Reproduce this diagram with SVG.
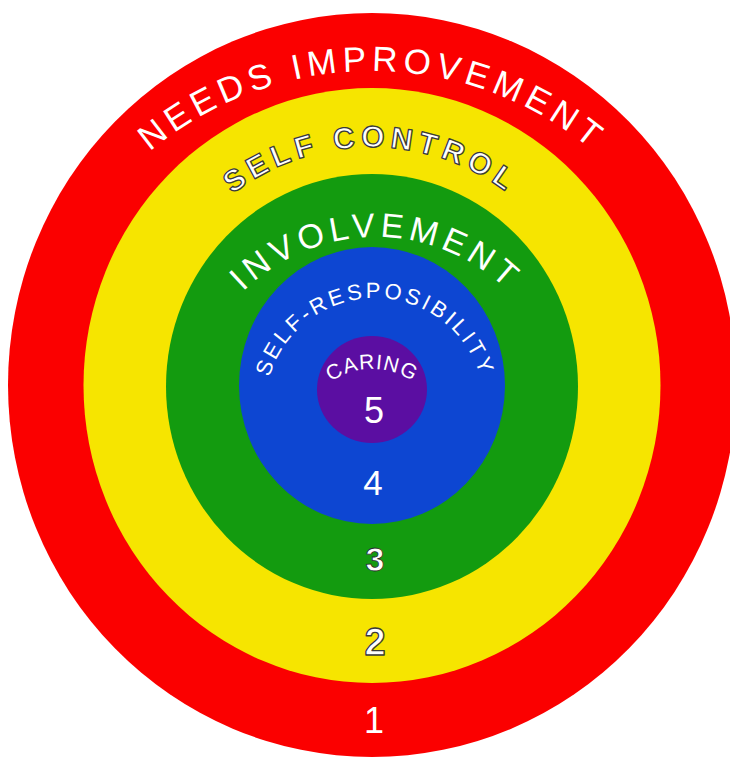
<svg xmlns="http://www.w3.org/2000/svg" width="730" height="759" viewBox="0 0 730 759">
  <style>
    .lbl { font-family: "Liberation Sans", Arial, sans-serif; fill: #ffffff; }
    .outl { font-family: "Liberation Sans", Arial, sans-serif; font-weight: bold; fill: #ffffff; stroke: #3a3a3a; stroke-width: 1.3; stroke-linejoin: round; }
    .num { font-family: "Liberation Sans", Arial, sans-serif; fill: #ffffff; text-anchor: middle; }
  </style>
  <defs>
    <path id="arc1" d="M 26 417 A 346 346 0 0 1 718 417"/>
    <path id="arc2" d="M 144 374 A 227 227 0 0 1 598 374"/>
    <path id="arc3" d="M 187 426 A 189 189 0 0 1 565 426"/>
    <path id="arc4" d="M 265 408 A 110 110 0 0 1 485 408"/>
    <path id="arc5" d="M 299 442 A 73 73 0 0 1 445 442"/>
  </defs>
  <rect x="0" y="0" width="730" height="759" fill="#ffffff"/>

  <g id="ring1">
    <ellipse cx="372" cy="385" rx="364" ry="372" fill="#fb0000"/>
    <text class="lbl" font-size="35" letter-spacing="5.4"><textPath href="#arc1" startOffset="50%" text-anchor="middle">NEEDS IMPROVEMENT</textPath></text>
    <text class="num" x="374" y="733" font-size="36">1</text>
  </g>

  <g id="ring2">
    <ellipse cx="372" cy="385.5" rx="288.5" ry="297.5" fill="#f6e500"/>
    <text class="outl" font-size="30" letter-spacing="5.4"><textPath href="#arc2" startOffset="50%" text-anchor="middle">SELF CONTROL</textPath></text>
    <text class="num outl" x="375" y="655" font-size="38">2</text>
  </g>

  <g id="ring3">
    <ellipse cx="372" cy="386.5" rx="206" ry="212.5" fill="#139b0f"/>
    <text class="lbl" font-size="34" letter-spacing="4.9"><textPath href="#arc3" startOffset="50%" text-anchor="middle">INVOLVEMENT</textPath></text>
    <text class="num" x="375" y="571" font-size="34" font-weight="bold" stroke="#2a2a2a" stroke-width="0.8">3</text>
  </g>

  <g id="ring4">
    <ellipse cx="372" cy="385.5" rx="133" ry="138.5" fill="#0d46d2"/>
    <text class="lbl" font-size="22" letter-spacing="3.1"><textPath href="#arc4" startOffset="50%" text-anchor="middle">SELF-RESPOSIBILITY</textPath></text>
    <text class="num" x="373" y="495" font-size="35">4</text>
  </g>

  <g id="ring5">
    <ellipse cx="372" cy="389.5" rx="55" ry="53.5" fill="#5b0ea2"/>
    <text class="lbl" font-size="21" letter-spacing="1"><textPath href="#arc5" startOffset="50%" text-anchor="middle">CARING</textPath></text>
    <text class="num" x="374" y="423" font-size="36">5</text>
  </g>
</svg>
